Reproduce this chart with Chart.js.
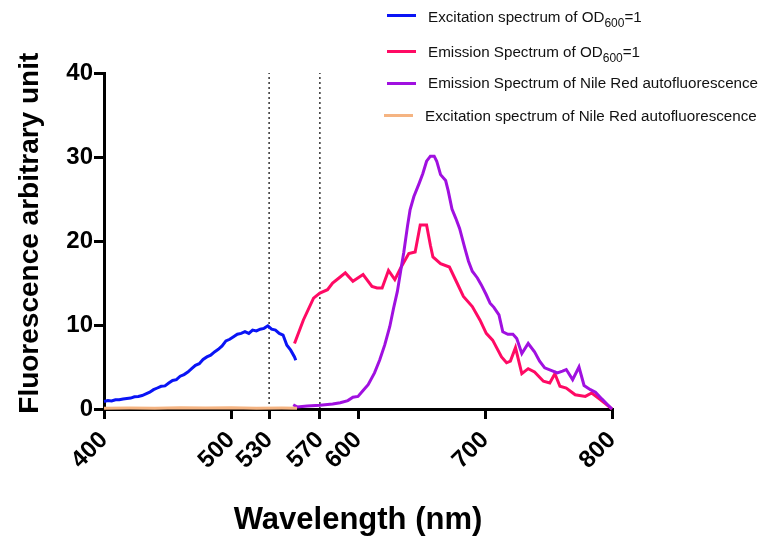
<!DOCTYPE html>
<html>
<head>
<meta charset="utf-8">
<script src="https://cdn.jsdelivr.net/npm/chart.js@4"></script>
<style>
  body { margin: 0; background: #fff; }
  #wrap { position: relative; width: 761px; height: 539px; overflow: hidden; }
  .leg { position: absolute; font: 15.2px "Liberation Sans", Arial, sans-serif; color: #111; white-space: nowrap; line-height: 15px; }
  .leg sub { font-size: 12px; vertical-align: -5px; line-height: 0; }
  .sw { position: absolute; height: 3px; width: 29px; }
</style>
</head>
<body>
<div id="wrap">
  <canvas id="c" width="761" height="539"></canvas>
  <div class="sw" style="left:387px;top:14px;background:#0a14f5"></div>
  <div class="leg" style="left:428px;top:9px">Excitation spectrum of OD<sub>600</sub>=1</div>
  <div class="sw" style="left:387px;top:50px;background:#ff0a64"></div>
  <div class="leg" style="left:428px;top:44px">Emission Spectrum of OD<sub>600</sub>=1</div>
  <div class="sw" style="left:387px;top:82px;background:#a010e0"></div>
  <div class="leg" style="left:428px;top:75px">Emission Spectrum of Nile Red autofluorescence</div>
  <div class="sw" style="left:384px;top:114px;background:#f5b482"></div>
  <div class="leg" style="left:425px;top:108px">Excitation spectrum of Nile Red autofluorescence</div>
</div>
<script>
// Tick positions on the wavelength axis
const xTicks = [400, 500, 530, 570, 600, 700, 800];
const markerLines = [530, 570];

// Excitation spectrum of OD600=1 (blue)
const exOdWl = [400, 403, 406, 409, 412, 415, 418, 421, 424, 427, 430, 433, 436, 439, 442, 445, 448, 451, 454, 457,
  460, 463, 466, 469, 472, 475, 478, 481, 484, 487, 490, 493, 496, 499, 502, 505, 508, 511, 514, 517,
  520, 523, 526, 529, 532, 535, 538, 541, 544, 547, 550, 551];
const exOdVal = [0.9, 1.0, 0.95, 1.1, 1.1, 1.2, 1.25, 1.3, 1.45, 1.5, 1.6, 1.8, 2.0, 2.3, 2.5, 2.7, 2.75, 3.1, 3.4, 3.5,
  3.9, 4.1, 4.4, 4.8, 5.2, 5.4, 5.9, 6.2, 6.4, 6.8, 7.1, 7.5, 8.1, 8.3, 8.6, 8.9, 9.0, 9.2, 9.0, 9.4,
  9.3, 9.5, 9.6, 9.9, 9.5, 9.4, 9.0, 8.8, 7.6, 7.0, 6.2, 5.8];

// Emission spectrum of OD600=1 (red)
const emOdWl = [550, 557, 565, 570, 576, 580, 585, 590, 596, 604, 611, 615, 619, 624, 629, 634, 640, 645, 649, 654,
  657, 659, 665, 672, 678, 683, 690, 696, 701, 706, 713, 717, 720, 724, 729, 734, 739, 746, 751, 755,
  759, 764, 771, 779, 784, 791, 795, 800];
const emOdVal = [7.8, 10.6, 13.2, 13.8, 14.2, 15.0, 15.6, 16.2, 15.2, 16.0, 14.6, 14.4, 14.4, 16.5, 15.4, 16.9, 18.5, 18.7, 21.9, 21.9,
  19.5, 18.1, 17.3, 16.9, 15.0, 13.4, 12.2, 10.6, 9.0, 8.2, 6.2, 5.5, 5.7, 7.3, 4.2, 4.8, 4.4, 3.3, 3.1, 4.2,
  2.7, 2.5, 1.7, 1.5, 1.9, 1.1, 0.6, 0.0];

// Emission spectrum of Nile Red autofluorescence (purple)
const emNrWl = [549, 552, 560, 570, 580, 586, 592, 596, 600, 604, 608, 613, 617, 621, 625, 628, 631, 634, 636, 639,
  641, 644, 648, 651, 654, 657, 660, 662, 665, 669, 671, 674, 677, 680, 684, 687, 690, 694, 697, 701,
  704, 707, 711, 714, 718, 722, 725, 729, 734, 739, 743, 747, 752, 757, 761, 764, 769, 774, 778, 783,
  787, 792, 796, 800];
const emNrVal = [0.5, 0.25, 0.35, 0.45, 0.6, 0.75, 1.0, 1.4, 1.5, 2.2, 2.9, 4.3, 5.8, 7.6, 9.8, 12.0, 14.0, 16.8, 18.6, 21.8,
  23.7, 25.3, 26.8, 28.0, 29.5, 30.1, 30.1, 29.5, 27.9, 27.2, 26.0, 23.8, 22.7, 21.5, 19.2, 17.6, 16.4, 15.6, 14.8, 13.6,
  12.6, 12.1, 11.2, 9.2, 8.9, 8.9, 8.4, 6.6, 7.8, 6.8, 5.7, 4.9, 4.6, 4.3, 4.5, 4.7, 3.5, 5.0, 2.8, 2.3,
  2.0, 1.2, 0.6, 0.0];

// Excitation spectrum of Nile Red autofluorescence (orange)
const exNrWl = [400, 420, 440, 460, 480, 500, 520, 540, 552];
const exNrVal = [0.1, 0.12, 0.1, 0.15, 0.12, 0.15, 0.1, 0.12, 0.1];

const pts = (xs, ys) => xs.map((x, i) => ({ x: x, y: ys[i] }));

const line = (label, xs, ys, color) => ({
  label: label,
  data: pts(xs, ys),
  borderColor: color,
  borderWidth: 3,
  pointRadius: 0,
  tension: 0,
  clip: false
});

const datasets = [
  line('Excitation spectrum of Nile Red autofluorescence', exNrWl, exNrVal, '#f5b482'),
  line('Excitation spectrum of OD600=1', exOdWl, exOdVal, '#0a14f5'),
  line('Emission Spectrum of Nile Red autofluorescence', emNrWl, emNrVal, '#a010e0'),
  line('Emission Spectrum of OD600=1', emOdWl, emOdVal, '#ff0a64')
];

// dotted marker lines at 530 and 570 nm
markerLines.forEach(w => {
  datasets.push({
    label: '',
    data: [{ x: w, y: 0 }, { x: w, y: 40 }],
    borderColor: '#000',
    borderWidth: 1.2,
    borderDash: [2, 3],
    pointRadius: 0
  });
});

const fam = '"Liberation Sans", Arial, sans-serif';

const ctx = document.getElementById('c').getContext('2d');
new Chart(ctx, {
  type: 'line',
  data: { datasets: datasets },
  options: {
    responsive: false,
    animation: false,
    devicePixelRatio: 1,
    layout: { padding: { top: 73, right: 149, left: 0, bottom: 0 } },
    plugins: { legend: { display: false }, tooltip: { enabled: false } },
    scales: {
      x: {
        type: 'linear',
        min: 400,
        max: 800,
        afterBuildTicks: axis => { axis.ticks = xTicks.map(v => ({ value: v })); },
        afterFit: axis => { axis.height = 130; },
        ticks: {
          minRotation: 45,
          maxRotation: 45,
          padding: 7,
          color: '#000',
          font: { family: fam, size: 24, weight: 'bold' },
          callback: v => v
        },
        grid: { display: true, drawOnChartArea: false, drawTicks: true, tickLength: 10, lineWidth: 3, color: '#000' },
        border: { display: true, width: 3, color: '#000' },
        title: {
          display: true,
          text: 'Wavelength (nm)',
          color: '#000',
          font: { family: fam, size: 31, weight: 'bold' },
          padding: { top: 0, bottom: 0 }
        }
      },
      y: {
        min: 0,
        max: 40,
        afterFit: axis => { axis.width = 104; },
        ticks: {
          stepSize: 10,
          padding: 1,
          color: '#000',
          font: { family: fam, size: 24, weight: 'bold' }
        },
        grid: { display: true, drawOnChartArea: false, drawTicks: true, tickLength: 10, lineWidth: 3, color: '#000' },
        border: { display: true, width: 3, color: '#000' },
        title: {
          display: true,
          // two leading spaces nudge the centred title up a little, as in the original
          text: '  Fluorescence arbitrary unit',
          color: '#000',
          font: { family: fam, size: 28, weight: 'bold' },
          padding: { top: 13, bottom: 0 }
        }
      }
    }
  }
});
</script>
</body>
</html>
